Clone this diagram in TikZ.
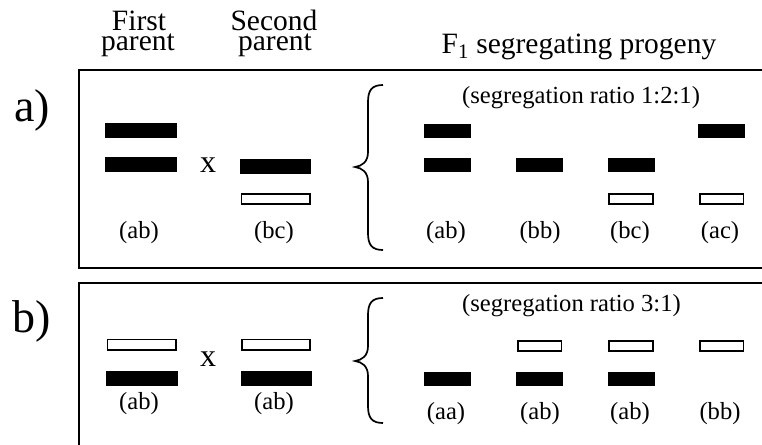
\documentclass[tikz,border=0pt]{standalone}
\usepackage{fontspec}
\setmainfont{Liberation Serif}
\begin{document}
\begin{tikzpicture}[x=1pt,y=-1pt,
  frame/.style={draw=black, line width=2pt},
  blackbar/.style={fill=black, inner sep=0pt, minimum width=72pt, minimum height=15pt},
  whitebar/.style={draw=black, fill=white, line width=1.6pt, inner sep=0pt, minimum width=68.4pt, minimum height=10.4pt},
  kidblack/.style={fill=black, inner sep=0pt, minimum width=47pt, minimum height=14pt},
  kidwhite/.style={draw=black, fill=white, line width=1.6pt, inner sep=0pt, minimum width=43.6pt, minimum height=10.4pt},
  lbl/.style={font=\fontsize{24.6}{27}\selectfont, inner sep=0pt},
  head/.style={font=\fontsize{29.5}{31}\selectfont, inner sep=0pt, anchor=base},
  panel/.style={font=\fontsize{46}{50}\selectfont, inner sep=0pt},
  cross/.style={font=\fontsize{32}{34}\selectfont, inner sep=0pt},
  bracepath/.style={draw=black, line width=1.7pt}]
\useasboundingbox (0,0) rectangle (762,444);
\clip (0,0) rectangle (762,444);
% headers
\node[head] (h1a) at (139,31) {First};
\node[head] (h1b) at (138,51) {parent};
\node[head] (h2a) at (274,31) {Second};
\node[head] (h2b) at (275,51) {parent};
\node[head] (h3) at (579,53) {F\textsubscript{1} segregating progeny};
% panel labels
\node[panel] (la) at (32,110) {a)};
\node[panel] (lb) at (32,321) {b)};
% frames
\draw[frame] (79,70) rectangle (800,268);
\draw[frame] (79,283) rectangle (800,480);
% ---------- panel a ----------
\node[blackbar] (a11) at (141,130.5) {};
\node[blackbar] (a12) at (141,164.5) {};
\node[cross] (ax) at (208,165) {x};
\node[blackbar, minimum width=71pt] (a21) at (275.5,166) {};
\node[whitebar] (a22) at (275.5,199) {};
\node[lbl] (al1) at (139,233) {(ab)};
\node[lbl] (al2) at (274,233) {(bc)};
\draw[bracepath] (383,85) .. controls (372,85) and (368,90) .. (368,102) -- (368,152)
  .. controls (368,162) and (362,166) .. (355,167)
  .. controls (362,168) and (368,172) .. (368,182) -- (368,233)
  .. controls (368,245) and (372,250) .. (383,250);
\node[lbl, anchor=west] (ar) at (462,98) {(segregation ratio 1:2:1)};
\node[kidblack] (ak11) at (447,131) {};
\node[kidblack] (ak12) at (447,165) {};
\node[kidblack] (ak22) at (539.5,165) {};
\node[kidblack] (ak32) at (631,165) {};
\node[kidwhite] (ak33) at (631,199) {};
\node[kidblack] (ak41) at (721.5,131) {};
\node[kidwhite] (ak43) at (721.5,199) {};
\node[lbl] (akl1) at (446,233) {(ab)};
\node[lbl] (akl2) at (540,233) {(bb)};
\node[lbl] (akl3) at (630,233) {(bc)};
\node[lbl] (akl4) at (720,233) {(ac)};
% ---------- panel b ----------
\node[whitebar] (b11) at (141.5,344.5) {};
\node[blackbar] (b12) at (141.5,378) {};
\node[cross] (bx) at (208,359) {x};
\node[whitebar] (b21) at (276,344.5) {};
\node[blackbar, minimum width=71pt] (b22) at (276,378) {};
\node[lbl] (bl1) at (139,404) {(ab)};
\node[lbl] (bl2) at (274,404) {(ab)};
\draw[bracepath] (383,298) .. controls (372,298) and (368,303) .. (368,315) -- (368,346)
  .. controls (368,356) and (362,360) .. (355,361)
  .. controls (362,362) and (368,366) .. (368,376) -- (368,406)
  .. controls (368,418) and (372,423) .. (383,423);
\node[lbl, anchor=west] (br) at (462,306) {(segregation ratio 3:1)};
\node[kidblack] (bk12) at (447,378.5) {};
\node[kidwhite] (bk21) at (539.5,346) {};
\node[kidblack] (bk22) at (539.5,378.5) {};
\node[kidwhite] (bk31) at (631,346) {};
\node[kidblack] (bk32) at (631,378.5) {};
\node[kidwhite] (bk41) at (721.5,346) {};
\node[lbl] (bkl1) at (446,414) {(aa)};
\node[lbl] (bkl2) at (540,414) {(ab)};
\node[lbl] (bkl3) at (630,414) {(ab)};
\node[lbl] (bkl4) at (720,414) {(bb)};
\end{tikzpicture}
\end{document}
